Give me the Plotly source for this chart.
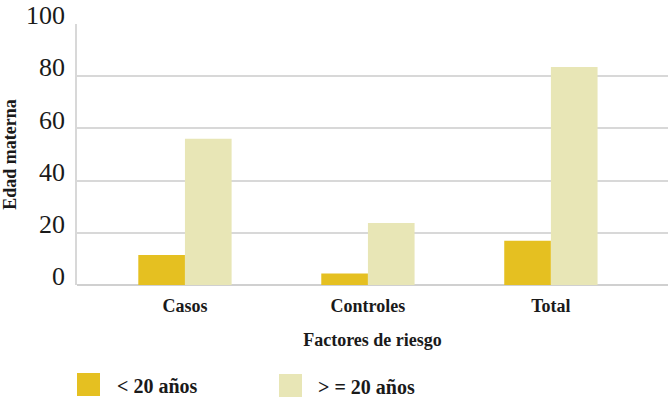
import plotly.graph_objects as go

categories = ["Casos", "Controles", "Total"]
series_names = ["< 20 años", "> = 20 años"]
menores_20 = [11.5, 4.4, 17.0]
mayores_20 = [56.0, 23.8, 83.5]
y_ticks = [0, 20, 40, 60, 80, 100]

colors = ["#E5C021", "#E8E6B6"]
FONT = "Liberation Serif"
TXT = "#1a1a1a"

W, H = 668, 401
L, R, T, B = 77, 0, 24, 116
pw, ph = W - L - R, H - T - B

fig = go.Figure()
for name, vals, col in zip(series_names, [menores_20, mayores_20], colors):
    fig.add_trace(go.Bar(x=categories, y=vals, name=name, marker=dict(color=col, line=dict(width=0)),
                         showlegend=False, hoverinfo="skip"))

def px_to_paper_x(px):
    return (px - L) / pw

def px_to_paper_y(py):
    return (H - B - py) / ph

legend_pos = [(77, 373, 115), (279, 374, 316)]
shapes = []
annotations = []
for (sx, sy, tx), name, col in zip(legend_pos, series_names, colors):
    shapes.append(dict(type="rect", xref="paper", yref="paper",
                       x0=px_to_paper_x(sx), x1=px_to_paper_x(sx + 23),
                       y0=px_to_paper_y(sy + 23), y1=px_to_paper_y(sy),
                       fillcolor=col, line=dict(width=0)))
    annotations.append(dict(xref="paper", yref="paper", x=px_to_paper_x(tx), y=px_to_paper_y(sy + 13),
                            xanchor="left", yanchor="middle", showarrow=False,
                            text="<b>" + name + "</b>", font=dict(family=FONT, size=20, color=TXT)))

fig.update_layout(
    width=W, height=H,
    margin=dict(l=L, r=R, t=T, b=B),
    paper_bgcolor="white", plot_bgcolor="white",
    barmode="group", bargap=0.49, bargroupgap=0,
    font=dict(family=FONT, color=TXT),
    shapes=shapes, annotations=annotations,
    xaxis=dict(range=[-0.59, 2.64], showgrid=False, ticks="", showline=False, zeroline=False,
               automargin=False, ticklabelstandoff=8,
               tickfont=dict(family=FONT, size=18, color=TXT),
               tickvals=categories, ticktext=["<b>" + c + "</b>" for c in categories],
               title=dict(text="<b>Factores de riesgo</b>", font=dict(family=FONT, size=18, color=TXT),
                          standoff=18)),
    yaxis=dict(range=[0, 100], tickvals=y_ticks, showgrid=True, gridcolor="#d8d8d8", gridwidth=1.5,
               zeroline=True, zerolinecolor="#d0d0d0", zerolinewidth=1.5,
               showline=True, linecolor="#d8d8d8", linewidth=1.5,
               automargin=False,
               ticks="", ticklabelstandoff=5, ticklabelshift=-9,
               tickfont=dict(family=FONT, size=26, color=TXT),
               title=dict(text="<b>Edad materna</b>", font=dict(family=FONT, size=18, color=TXT),
                          standoff=6)),
)

fig.write_html("out.html", config={"displayModeBar": False},
               post_script="document.body.style.margin='0';document.body.style.overflow='hidden';")
